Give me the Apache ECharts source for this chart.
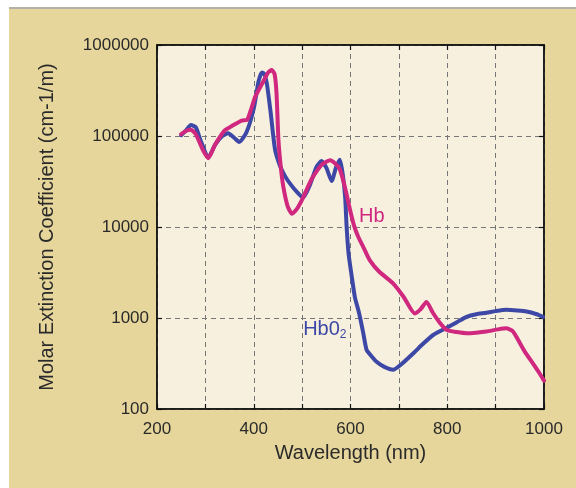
<!DOCTYPE html>
<html>
<head>
<meta charset="utf-8">
<script src="https://cdn.jsdelivr.net/npm/echarts@6/dist/echarts.min.js"></script>
<style>
html,body{margin:0;padding:0;background:#fff;}
#chart{width:576px;height:488px;}
</style>
</head>
<body>
<div id="chart"></div>
<script>
// Hb (deoxy-hemoglobin)
var hbWavelength = [250,262,270,280,295,306,320,340,358,375,386,395,403,420,430,437,443,447,451,456,461,470,479,490,502,515,523,540,550,558,568,578,588,599,607,616,628,640,660,688,710,733,745,757,770,785,799,820,840,860,881,905,922,935,943,960,977,990,1000];
var hbValues = [105000,115000,117000,105000,70000,57000,80000,115000,132000,148000,150000,200000,270000,400000,500000,530000,480000,300000,91000,45000,28000,17000,14000,16000,21000,30000,36000,48000,52000,54000,50000,43000,28000,15500,10500,7800,5800,4300,3200,2400,1700,1120,1250,1500,1150,880,740,700,680,690,710,750,770,720,620,430,317,250,205];
// HbO2 (oxy-hemoglobin)
var hbo2Wavelength = [250,260,270,280,290,306,320,335,347,360,370,385,400,410,417,422,427,435,444,455,465,475,490,502,515,530,540,550,561,570,578,584,589,592,596,602,609,616,620,626,633,640,654,670,688,705,730,750,771,799,820,840,860,881,900,922,945,964,985,998];
var hbo2Values = [102000,115000,132000,125000,90000,58000,80000,100000,107000,95000,86000,110000,200000,400000,500000,480000,380000,180000,71000,46000,36000,30000,24000,21000,28000,46000,53000,45000,32000,45000,55000,38000,21000,10000,5100,3000,1700,1230,1000,700,450,400,330,290,270,310,410,520,650,780,900,1030,1100,1140,1190,1230,1210,1180,1100,1030];
// axis ticks
var xTicks = [200,400,600,800,1000];
var yTicks = [100,1000,10000,100000,1000000];
var labels = {hb:'Hb', hbo2Main:'Hb0', hbo2Sub:'2'};
var labelPos = {hb:[644,12900], hbo2:[547,740]};

function pairs(xs, ys){ return xs.map(function(x,i){ return [x, ys[i]]; }); }

var FONT = "'Liberation Sans', Arial, Helvetica, sans-serif";
var BLUE = '#3d48a6';
var MAG = '#d0277f';
var chart = echarts.init(document.getElementById('chart'));
chart.setOption({
  backgroundColor: '#e6d69b',
  textStyle: {fontFamily: FONT},
  animation: false,
  graphic: [
    {type:'rect', shape:{x:0,y:0,width:9,height:488}, style:{fill:'#ffffff'}, z:-5},
    {type:'rect', shape:{x:0,y:0,width:576,height:7}, style:{fill:'#ffffff'}, z:-5},
    {type:'rect', shape:{x:9,y:7,width:567,height:2}, style:{fill:'#b5b0a8'}, z:-5}
  ],
  grid: {left:157, right:32, top:45, bottom:79, show:true, backgroundColor:'#f7f0df', borderColor:'#111', borderWidth:1.5},
  xAxis: [{
    type:'value', min:200, max:1000, interval:100,
    name:'Wavelength (nm)', nameLocation:'middle', nameGap:34,
    nameTextStyle:{fontSize:20, color:'#2a2a2a', fontFamily:FONT},
    axisLine:{show:true, lineStyle:{color:'#111', width:1.5}},
    axisTick:{show:true, inside:true, length:5, lineStyle:{color:'#111', width:1.2}},
    axisLabel:{fontSize:17, color:'#2a2a2a', margin:12, fontFamily:FONT,
      formatter:function(v){ return xTicks.indexOf(v) >= 0 ? String(v) : ''; }},
    splitLine:{show:true, lineStyle:{color:'#777', type:[5,4], width:1}}
  },{
    type:'value', position:'top', min:200, max:1000, interval:100,
    axisLine:{show:true, lineStyle:{color:'#111', width:1.5}},
    axisTick:{show:true, inside:true, length:5, lineStyle:{color:'#111', width:1.2}},
    axisLabel:{show:false}, splitLine:{show:false}
  }],
  yAxis: [{
    type:'log', logBase:10, min:100, max:1000000,
    name:'Molar Extinction Coefficient (cm-1/m)', nameLocation:'middle', nameGap:100,
    nameTextStyle:{fontSize:20, color:'#2a2a2a', fontFamily:FONT},
    axisLine:{show:true, lineStyle:{color:'#111', width:1.5}},
    axisTick:{show:true, inside:true, length:5, lineStyle:{color:'#111', width:1.2}},
    axisLabel:{fontSize:17, color:'#2a2a2a', margin:8, fontFamily:FONT,
      formatter:function(v){ return yTicks.indexOf(Math.round(v)) >= 0 ? String(Math.round(v)) : ''; }},
    splitLine:{show:true, lineStyle:{color:'#777', type:[5,4], width:1}},
    minorTick:{show:false}
  },{
    type:'log', logBase:10, min:100, max:1000000, position:'right',
    axisLine:{show:true, lineStyle:{color:'#111', width:1.5}},
    axisTick:{show:true, inside:true, length:5, lineStyle:{color:'#111', width:1.2}},
    axisLabel:{show:false}, splitLine:{show:false}
  }],
  series: [{
    name:'HbO2', type:'line', data:pairs(hbo2Wavelength, hbo2Values),
    showSymbol:false, smooth:0.2, lineStyle:{color:BLUE, width:4, cap:'round', join:'round'},
    itemStyle:{color:BLUE}, z:3,
    markPoint:{symbol:'circle', symbolSize:1, silent:true,
      itemStyle:{color:'rgba(0,0,0,0)'},
      data:[{coord:labelPos.hbo2,
        label:{show:true, position:'inside', formatter:'{a|'+labels.hbo2Main+'}{b|'+labels.hbo2Sub+'}',
          rich:{a:{fontSize:20, color:BLUE, fontFamily:FONT}, b:{fontSize:12, color:BLUE, fontFamily:FONT, padding:[10,0,0,0]}}}}]}
  },{
    name:'Hb', type:'line', data:pairs(hbWavelength, hbValues),
    showSymbol:false, smooth:0.2, lineStyle:{color:MAG, width:4, cap:'round', join:'round'},
    itemStyle:{color:MAG}, z:4,
    markPoint:{symbol:'circle', symbolSize:1, silent:true,
      itemStyle:{color:'rgba(0,0,0,0)'},
      data:[{coord:labelPos.hb,
        label:{show:true, position:'inside', formatter:labels.hb, fontSize:20, color:MAG, fontFamily:FONT}}]}
  }]
});
</script>
</body>
</html>
